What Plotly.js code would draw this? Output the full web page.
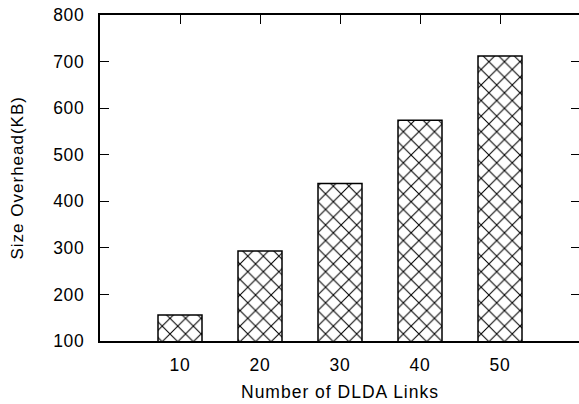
<!DOCTYPE html>
<html>
<head>
<meta charset="utf-8">
<script src="https://cdn.plot.ly/plotly-3.0.1.min.js"></script>
<style>
html, body { margin: 0; padding: 0; overflow: hidden; background: #fff; }
#chart { width: 580px; height: 404px; }
#chart .xtick text, #chart .ytick text { letter-spacing: 0.7px; }
#chart .annotation-text { letter-spacing: 1px; }
</style>
</head>
<body>
<div id="chart"></div>
<script>
const categories = [10, 20, 30, 40, 50];
const sizeOverheadKB = [156, 293, 438, 574, 712];
const yTickValues = [100, 200, 300, 400, 500, 600, 700, 800];
const xTitle = "Number of DLDA Links";
const yTitle = "Size Overhead(KB)";

const font = "Liberation Sans, Arial, Helvetica, sans-serif";

const trace = {
  type: "bar",
  x: categories,
  y: sizeOverheadKB,
  width: 5.5,
  marker: {
    color: "#ffffff",
    line: { color: "#000000", width: 1.5 },
    pattern: { shape: "x", fgcolor: "#000000", bgcolor: "#ffffff", size: 11, solidity: 0.18 }
  },
  hoverinfo: "none"
};

// invisible helper traces for mirrored tick axes
const topTicks = { type: "scatter", x: categories, y: [null,null,null,null,null], xaxis: "x2", yaxis: "y", mode: "none", hoverinfo: "none", showlegend: false };
const rightTicks = { type: "scatter", x: [null], y: [null], xaxis: "x", yaxis: "y2", mode: "none", hoverinfo: "none", showlegend: false };

const layout = {
  width: 580,
  height: 404,
  margin: { l: 100, r: 0, t: 15, b: 63 },
  paper_bgcolor: "#ffffff",
  plot_bgcolor: "#ffffff",
  showlegend: false,
  font: { family: font, color: "#000000", size: 16 },
  bargap: 0,
  xaxis: {
    range: [0, 60],
    tickvals: categories,
    ticktext: categories.map(String),
    ticks: "",
    showline: true,
    linecolor: "#000000",
    linewidth: 2,
    mirror: true,
    showgrid: false,
    zeroline: false,
    tickfont: { family: font, size: 17.5, color: "#000000" },
    ticklabelstandoff: 7,
    fixedrange: true
  },
  xaxis2: {
    overlaying: "x",
    side: "top",
    matches: "x",
    range: [0, 60],
    tickvals: categories,
    ticks: "inside",
    ticklen: 9,
    tickwidth: 1,
    tickcolor: "#000000",
    showticklabels: false,
    showline: false,
    showgrid: false,
    zeroline: false
  },
  yaxis: {
    range: [100, 800],
    tickvals: yTickValues,
    ticks: "inside",
    ticklen: 9,
    tickwidth: 1,
    tickcolor: "#000000",
    showline: true,
    linecolor: "#000000",
    linewidth: 2,
    showgrid: false,
    zeroline: false,
    tickfont: { family: font, size: 17.5, color: "#000000" },
    ticklabelstandoff: 10,
    fixedrange: true
  },
  yaxis2: {
    overlaying: "y",
    side: "right",
    matches: "y",
    range: [100, 800],
    tickvals: yTickValues,
    ticks: "inside",
    ticklen: 9,
    tickwidth: 1,
    tickcolor: "#000000",
    showticklabels: false,
    showline: false,
    showgrid: false,
    zeroline: false
  },
  annotations: [
    {
      text: xTitle, xref: "paper", yref: "paper", x: 0.5, y: 0,
      xanchor: "center", yanchor: "middle", yshift: -51, showarrow: false,
      font: { family: font, size: 17.5, color: "#000000" }
    },
    {
      text: yTitle, xref: "paper", yref: "paper", x: 0, y: 0.5,
      xanchor: "center", yanchor: "middle", xshift: -83, textangle: -90, showarrow: false,
      font: { family: font, size: 17, color: "#000000" }
    }
  ]
};

Plotly.newPlot("chart", [trace, topTicks, rightTicks], layout, { displayModeBar: false, staticPlot: true });
</script>
</body>
</html>
